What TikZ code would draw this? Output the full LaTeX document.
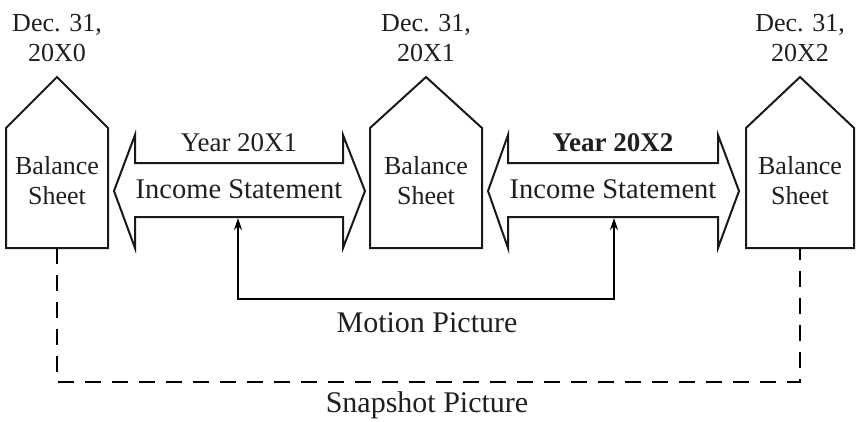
\documentclass[tikz,border=0pt]{standalone}
\usepackage{fontspec}
\setmainfont{Liberation Serif}
\usetikzlibrary{arrows.meta}
\begin{document}
\begin{tikzpicture}[x=1pt,y=-1pt, line width=2pt, line join=miter,
  lbl/.style={font=\fontsize{26}{30}\selectfont, inner sep=0pt, align=center, text=black!88},
  big/.style={font=\fontsize{28.5}{30}\selectfont},
  conn/.style={{Stealth[length=12pt,width=8pt]}-{Stealth[length=12pt,width=8pt]}, line width=2pt},
  snap/.style={dash pattern=on 16pt off 11pt, line width=2pt},
  outl/.style={draw=black!90, line width=2pt}]
\useasboundingbox (0,0) rectangle (856,421);
% houses (balance sheets)
\draw[outl] (6,248) -- (6,128) -- (57,77) -- (108,128) -- (108,248) -- cycle;
\draw[outl] (370,248) -- (370,128) -- (426,77) -- (482,128) -- (482,248) -- cycle;
\draw[outl] (746,248) -- (746,128) -- (800,77) -- (854,128) -- (854,248) -- cycle;
% double arrows (income statements)
\draw[outl] (114,191) -- (135,135) -- (135,163) -- (343,163) -- (343,135) -- (365,191)
  -- (343,248) -- (343,217) -- (135,217) -- (135,248) -- cycle;
\draw[outl] (488,191) -- (508,135) -- (508,163) -- (718,163) -- (718,135) -- (739,191)
  -- (718,248) -- (718,217) -- (508,217) -- (508,248) -- cycle;
% labels
\node[lbl] (d0) at (57,38) {Dec. 31,\\20X0};
\node[lbl] (d1) at (426,38) {Dec. 31,\\20X1};
\node[lbl] (d2) at (800,38) {Dec. 31,\\20X2};
\node[lbl] (b0) at (57,181) {Balance\\Sheet};
\node[lbl] (b1) at (426,181) {Balance\\Sheet};
\node[lbl] (b2) at (800,181) {Balance\\Sheet};
\node[lbl, anchor=base, font=\fontsize{27}{30}\selectfont] (y1) at (239,151) {Year 20X1};
\node[lbl, anchor=base, big] (i1) at (239,198) {Income Statement};
\node[lbl, anchor=base, font=\fontsize{27}{30}\selectfont\bfseries] (y2) at (613,151) {Year 20X2};
\node[lbl, anchor=base, big] (i2) at (613,198) {Income Statement};
\node[lbl, font=\fontsize{30}{32}\selectfont] (mp) at (427,323) {Motion Picture};
\node[lbl, font=\fontsize{30}{32}\selectfont] (sp) at (427,405) {Snapshot Picture};
% connectors
\coordinate (a1b) at (238,218);
\coordinate (a2b) at (614,218);
\coordinate (m1) at (238,299);
\coordinate (m2) at (614,299);
\draw[conn] (a1b) -- (m1) -- (m2) -- (a2b);
\coordinate (h0b) at (57,248);
\coordinate (h2b) at (800,248);
\coordinate (s1) at (57,382);
\coordinate (s2) at (800,382);
\draw[snap] (h0b) -- (s1) -- (s2) -- (h2b);
\end{tikzpicture}
\end{document}
